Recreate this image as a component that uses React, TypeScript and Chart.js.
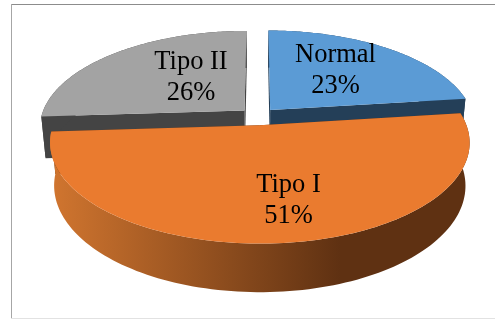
import React, { useEffect, useRef } from "react";
import { Chart, registerables } from "chart.js";

Chart.register(...registerables);

const categories = ["Normal", "Tipo I", "Tipo II"];
const shares = [23, 51, 26];
const topColors = ["#5B9BD5", "#EA7B2F", "#A3A3A3"];
const wallColors = ["#243F58", "#5F3112", "#444444"];

// Camera used to tilt the flat pie into a 3D disc.
const camera = { cx: 258, cy: 116.5, fx: 203.5, fy: 95, persp: 0.169, depth: 42.5, lowerScale: 1.02 };
const labelSpots = [
  { x: 335.5, y: 62 },
  { x: 288.5, y: 192 },
  { x: 191, y: 69 },
];
const paintOrder = [2, 0, 1];

function project(u: number, v: number, lower: boolean) {
  const w = (1 + camera.persp * v) * (lower ? camera.lowerScale : 1);
  return {
    x: camera.cx + (camera.fx * u) / w,
    y: camera.cy + (-camera.fy * v + (lower ? camera.depth : 0)) / w,
  };
}

function tracePolygon(ctx: CanvasRenderingContext2D, pts: { x: number; y: number }[]) {
  ctx.beginPath();
  pts.forEach((p, i) => (i ? ctx.lineTo(p.x, p.y) : ctx.moveTo(p.x, p.y)));
  ctx.closePath();
}

const pie3d = {
  id: "pie3d",
  beforeDraw(chart: any) {
    const ctx: CanvasRenderingContext2D = chart.ctx;
    ctx.save();
    ctx.fillStyle = "#FFFFFF";
    ctx.fillRect(0, 0, chart.width, chart.height);
    ctx.fillStyle = "#8C8C8C";
    ctx.fillRect(11, 4, chart.width - 11, 1);
    ctx.fillStyle = "#A6A6A6";
    ctx.fillRect(11, 4, 1, 315);
    ctx.fillStyle = "#E2E2E2";
    ctx.fillRect(11, 318, chart.width - 11, 1);
    ctx.restore();
  },
  beforeDatasetDraw(chart: any) {
    const ctx: CanvasRenderingContext2D = chart.ctx;
    const arcs = chart.getDatasetMeta(0).data;
    ctx.save();
    paintOrder.forEach((i) => {
      const arc = arcs[i];
      const props = arc.getProps(["startAngle", "endAngle", "outerRadius"], true);
      const a0 = props.startAngle + Math.PI / 2;
      const a1 = props.endAngle + Math.PI / 2;
      const mid = (a0 + a1) / 2;
      const shift = arc.options.offset / props.outerRadius;
      const ox = shift * Math.sin(mid);
      const oy = shift * Math.cos(mid);
      const upperRim: { x: number; y: number }[] = [];
      const lowerRim: { x: number; y: number }[] = [];
      const steps = 120;
      for (let s = 0; s <= steps; s++) {
        const a = a0 + ((a1 - a0) * s) / steps;
        const u = ox + Math.sin(a);
        const v = oy + Math.cos(a);
        upperRim.push(project(u, v, false));
        lowerRim.push(project(u, v, true));
      }
      const apexTop = project(ox, oy, false);
      const apexLow = project(ox, oy, true);

      // Side walls: the two cut faces, then the outer rim.
      ctx.fillStyle = wallColors[i];
      tracePolygon(ctx, [apexTop, upperRim[0], lowerRim[0], apexLow]);
      ctx.fill();
      tracePolygon(ctx, [apexTop, upperRim[steps], lowerRim[steps], apexLow]);
      ctx.fill();
      if (i === 1) {
        const shade = ctx.createLinearGradient(53, 0, 340, 0);
        shade.addColorStop(0, "#D0752F");
        shade.addColorStop(1, wallColors[i]);
        ctx.fillStyle = shade;
      }
      tracePolygon(ctx, [...upperRim, ...lowerRim.slice().reverse()]);
      ctx.fill();

      // Top face.
      ctx.fillStyle = topColors[i];
      tracePolygon(ctx, [apexTop, ...upperRim]);
      ctx.fill();
    });
    ctx.restore();
    return false;
  },
  afterDatasetsDraw(chart: any) {
    const ctx: CanvasRenderingContext2D = chart.ctx;
    ctx.save();
    ctx.fillStyle = "#000000";
    ctx.font = '26.5px "Liberation Serif"';
    ctx.textAlign = "center";
    ctx.textBaseline = "alphabetic";
    categories.forEach((name, i) => {
      ctx.fillText(name, labelSpots[i].x, labelSpots[i].y);
      ctx.fillText(`${shares[i]}%`, labelSpots[i].x, labelSpots[i].y + 30.5);
    });
    ctx.restore();
  },
};

export default function App() {
  const ref = useRef<HTMLCanvasElement>(null);
  useEffect(() => {
    const chart = new Chart(ref.current!, {
      type: "pie",
      data: {
        labels: categories,
        datasets: [{ data: shares, backgroundColor: topColors, offset: 14, borderWidth: 0 }],
      },
      options: {
        responsive: false,
        animation: false,
        events: [],
        plugins: { legend: { display: false }, tooltip: { enabled: false } },
      },
      plugins: [pie3d],
    });
    return () => chart.destroy();
  }, []);
  return (
    <canvas
      ref={ref}
      width={495}
      height={320}
      style={{ position: "fixed", left: 0, top: 0, width: 495, height: 320 }}
    />
  );
}
